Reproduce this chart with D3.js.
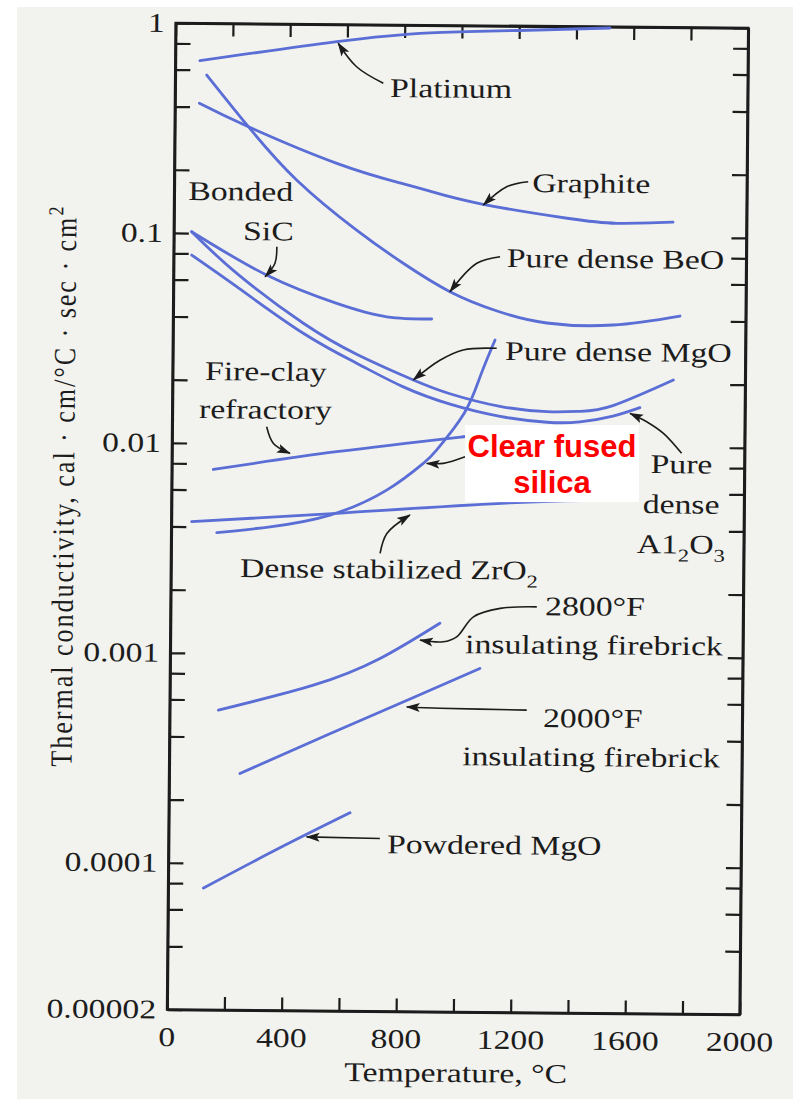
<!DOCTYPE html>
<html><head><meta charset="utf-8">
<script src="https://cdn.jsdelivr.net/npm/d3@7"></script>
<style>
html,body{margin:0;padding:0;background:#fff;}
svg{display:block;}
</style></head>
<body>
<svg id="chart" width="793" height="1099"></svg>
<script>
// ---------- DATA (temperature °C, thermal conductivity cal·cm/°C·sec·cm²) ----------
const platinum   = [[86,0.663],[563,0.828],[889,0.92],[1200,0.952],[1517,0.987]];
const graphite   = [[85,0.416],[257,0.323],[567,0.218],[788,0.177],[893,0.162],[1079,0.141],[1373,0.122],[1546,0.116],[1743,0.118]];
const beo        = [[110,0.567],[257,0.323],[427,0.181],[638,0.105],[802,0.0733],[966,0.0539],[1131,0.0438],[1305,0.0386],[1537,0.038],[1770,0.0422]];
const sic        = [[62,0.1015],[325,0.0636],[571,0.0469],[746,0.0407],[903,0.0399]];
const mgo        = [[62,0.1015],[221,0.0646],[455,0.0376],[647,0.0267],[841,0.0204],[969,0.0176],[1144,0.0154],[1309,0.0146],[1424,0.0147],[1539,0.0157],[1749,0.0209]];
const al2o3      = [[63,0.0786],[221,0.0558],[455,0.0337],[647,0.0242],[806,0.0189],[970,0.0157],[1145,0.0138],[1309,0.0130],[1424,0.0131],[1539,0.0140],[1633,0.0154]];
const silica     = [[159,0.00375],[345,0.00402],[554,0.0046],[751,0.00608],[878,0.00818],[924,0.00948],[1019,0.0142],[1074,0.0213],[1125,0.0319]];
const fireClay   = [[145,0.0075],[575,0.00922],[1017,0.0110],[1200,0.0118]];
const zro2       = [[71,0.00422],[577,0.00469],[1182,0.00535],[1601,0.0056]];
const brick2800  = [[170,0.000536],[501,0.000711],[733,0.000959],[941,0.00142]];
const brick2000  = [[247,0.000268],[560,0.000418],[851,0.000627],[1082,0.000868]];
const powderMgO  = [[123,0.000076],[389,0.000119],[633,0.000176]];

const seriesList = [platinum, graphite, beo, sic, mgo, al2o3, fireClay, zro2, silica, brick2800, brick2000, powderMgO];

const xTickValues = [0,200,400,600,800,1000,1200,1400,1600,1800,2000];
const xTickLabels = [0,400,800,1200,1600,2000];
const yTickValues = [1,0.8,0.6,0.4,0.2,0.1,0.08,0.06,0.04,0.02,0.01,0.008,0.006,0.004,0.002,0.001,0.0008,0.0006,0.0004,0.0002,0.0001,0.00008,0.00006,0.00004,0.00002];
const yTickLabels = [[1,"1"],[0.1,"0.1"],[0.01,"0.01"],[0.001,"0.001"],[0.0001,"0.0001"],[0.00002,"0.00002"]];

// annotation labels: [T, value, anchor, parts]
const labels = [
  [751,0.4534,"start",[["Platinum"]]],
  [1250,0.1622,"start",[["Graphite"]]],
  [1164,0.0710,"start",[["Pure dense BeO"]]],
  [49,0.1437,"start",[["Bonded"]]],
  [242,0.0931,"start",[["SiC"]]],
  [1160,0.0256,"start",[["Pure dense MgO"]]],
  [113,0.0200,"start",[["Fire-clay"]]],
  [93,0.01316,"start",[["refractory"]]],
  [1780,0.00752,"middle",[["Pure"]]],
  [1780,0.004843,"middle",[["dense"]]],
  [1780,0.003123,"middle",[["A1"],["2","sub"],["O"],["3","sub"]]],
  [241,0.00231,"start",[["Dense stabilized ZrO"],["2","sub"]]],
  [1308,0.001567,"start",[["2800°F"]]],
  [1030,0.001025,"start",[["insulating firebrick"]]],
  [1304,0.000459,"start",[["2000°F"]]],
  [1023,0.0003,"start",[["insulating firebrick"]]],
  [763,0.0001134,"start",[["Powdered MgO"]]]
];
// annotation arrows (tail ... tip)
const arrows = [
  [[727,0.527],[633,0.630],[568,0.814]],
  [[1236,0.1815],[1161,0.1714],[1080,0.140]],
  [[1140,0.0795],[1059,0.0738],[966,0.0539]],
  [[360,0.0868],[354,0.0724],[320,0.0624]],
  [[1131,0.0291],[1014,0.0285],[933,0.0254],[841,0.0204]],
  [[330,0.01204],[354,0.01004],[412,0.00902]],
  [[1024,0.00883],[948,0.0082],[890,0.00818]],
  [[1780,0.00936],[1716,0.01163],[1657,0.0132],[1599,0.01443]],
  [[730,0.003035],[753,0.00378],[833,0.00464]],
  [[1279,0.001715],[1151,0.00168],[1058,0.001528],[1000,0.001225],[953,0.001158],[872,0.001178]],
  [[1247,0.000552],[944,0.000559],[828,0.000565]],
  [[738,0.0001332],[482,0.0001346]]
];
const silicaBox = [[1022.6,0.0125],[1632.7,0.00546]];
const silicaText = ["Clear fused","silica"];

// ---------- DRAW ----------
const W=793,H=1099;
const svg=d3.select("#chart");
svg.append("rect").attr("width",W).attr("height",H).attr("fill","#ffffff");
svg.append("rect").attr("x",17).attr("y",7).attr("width",W-17).attr("height",H-7).attr("fill","#f2f2ee");

const x=d3.scaleLinear().domain([0,2000]).range([171.4,744]);
const y=d3.scaleLog().domain([0.00002,1]).range([1012,25.5]);
const angle=0.5, cx=457.7, cy=518.75;
const ink="#1c1c1c", blue="#5a6ed6";
const serif="'Liberation Serif','Times New Roman',serif";

const defs=svg.append("defs");
defs.append("marker").attr("id","ah").attr("viewBox","0 -5 14 10").attr("refX",13).attr("refY",0)
  .attr("markerWidth",14).attr("markerHeight",10).attr("markerUnits","userSpaceOnUse").attr("orient","auto")
  .append("path").attr("d","M0,-4.5L14,0L0,4.5L3,0Z").attr("fill",ink);

const g=svg.append("g").attr("transform",`rotate(${angle},${cx},${cy})`);

// axes (inward ticks)
const gl=g.append("g").attr("transform",`translate(${x(0)},0)`).call(d3.axisLeft(y).tickValues(yTickValues).tickSize(-15).tickSizeOuter(0).tickFormat(""));
const gr=g.append("g").attr("transform",`translate(${x(2000)},0)`).call(d3.axisRight(y).tickValues(yTickValues).tickSize(-15).tickSizeOuter(0).tickFormat(""));
const gb=g.append("g").attr("transform",`translate(0,${y(0.00002)})`).call(d3.axisBottom(x).tickValues(xTickValues).tickSize(-13).tickSizeOuter(0).tickFormat(""));
const gt=g.append("g").attr("transform",`translate(0,${y(1)})`).call(d3.axisTop(x).tickValues(xTickValues).tickSize(-13).tickSizeOuter(0).tickFormat(""));
[gl,gr,gb,gt].forEach(a=>{a.selectAll("line").attr("stroke",ink).attr("stroke-width",2.2);a.select(".domain").attr("stroke",ink).attr("stroke-width",2.6);});
g.append("rect").attr("x",x(0)).attr("y",y(1)).attr("width",x(2000)-x(0)).attr("height",y(0.00002)-y(1))
  .attr("fill","none").attr("stroke",ink).attr("stroke-width",2.6);

function stretchText(parent,px,py,anchor,size){
  return parent.append("text").attr("transform",`translate(${px},${py}) scale(1.25,1)`)
    .attr("text-anchor",anchor).attr("font-family",serif).attr("font-size",size).attr("fill",ink);
}
// y tick labels
yTickLabels.forEach(([v,t])=>stretchText(g,x(0)-11,y(v)+9,"end",27).text(t));
// x tick labels
xTickLabels.forEach(v=>stretchText(g,x(v),y(0.00002)+36.5,"middle",27).text(v));
// axis titles
stretchText(g,x(1010),y(0.00002)+70,"middle",27).text("Temperature, °C");
const yt=g.append("text").attr("transform",`translate(${x(0)-97.7},490) rotate(-90) scale(1,1.18)`)
  .attr("text-anchor","middle").attr("font-family",serif).attr("font-size",26).attr("fill",ink)
  .attr("textLength",560).attr("lengthAdjust","spacing");
yt.append("tspan").text("Thermal conductivity, cal · cm/°C · sec · cm");
yt.append("tspan").attr("font-size",18).attr("dy",-11).text("2");

// curves
const curveLine=d3.line().x(d=>x(d[0])).y(d=>y(d[1])).curve(d3.curveNatural);
g.append("g").selectAll("path").data(seriesList).join("path")
  .attr("d",curveLine).attr("fill","none").attr("stroke",blue).attr("stroke-width",2.8).attr("stroke-linecap","round");

// arrows
const arrowLine=d3.line().x(d=>x(d[0])).y(d=>y(d[1])).curve(d3.curveCatmullRom.alpha(0.5));
g.append("g").selectAll("path").data(arrows).join("path")
  .attr("d",arrowLine).attr("fill","none").attr("stroke",ink).attr("stroke-width",1.6).attr("marker-end","url(#ah)");

// labels
labels.forEach(([T,v,anchor,parts])=>{
  const t=stretchText(g,x(T),y(v),anchor,27);
  let shifted=0;
  parts.forEach(([s,kind])=>{
    const sp=t.append("tspan").text(s);
    if(kind==="sub"){sp.attr("font-size",18).attr("dy",8-shifted);shifted=8;}
    else if(shifted){sp.attr("dy",-shifted);shifted=0;}
  });
});

// overlay box for "Clear fused silica" (axis-aligned, on top of the scan)
function scr(T,v){const a=angle*Math.PI/180,px=x(T)-cx,py=y(v)-cy;
  return [cx+px*Math.cos(a)-py*Math.sin(a), cy+px*Math.sin(a)+py*Math.cos(a)];}
const b0=scr(...silicaBox[0]), b1=scr(...silicaBox[1]);
svg.append("rect").attr("x",b0[0]).attr("y",b0[1]).attr("width",b1[0]-b0[0]).attr("height",b1[1]-b0[1]).attr("fill","#ffffff");
silicaText.forEach((s,i)=>svg.append("text").attr("x",(b0[0]+b1[0])/2).attr("y",b0[1]+32+i*36)
  .attr("text-anchor","middle").attr("font-family","'Liberation Sans',Arial,sans-serif").attr("font-weight","bold")
  .attr("font-size",31).attr("fill","#ff0000").text(s));
</script>
</body></html>
